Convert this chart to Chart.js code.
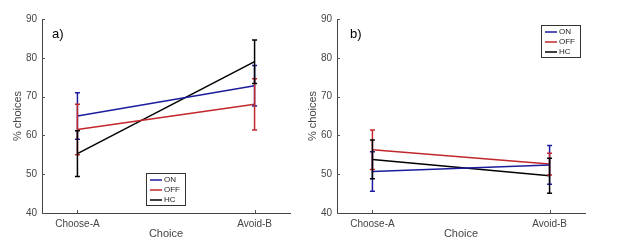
<!DOCTYPE html>
<html lang="en">
<head>
    <meta charset="UTF-8">
    <title>% choices</title>
    <script src="https://cdn.jsdelivr.net/npm/chart.js"></script>
    <style>
        body { margin: 0; background: #fff; }
        #wrap { position: relative; width: 617px; height: 241px; }
        .panel { position: absolute; top: 0; width: 308px; height: 241px; }
    </style>
</head>
<body>
    <div id="wrap">
        <div class="panel" style="left:0"><canvas id="chartA"></canvas></div>
        <div class="panel" style="left:295px"><canvas id="chartB"></canvas></div>
    </div>

    <script>
        const categories = ['Choose-A', 'Avoid-B'];
        const seriesNames = ['ON', 'OFF', 'HC'];
        const seriesColors = ['#1c1c9c', '#c0282c', '#000000'];
        const yTicks = [40, 50, 60, 70, 80, 90];

        // panel a)
        const onA = [65.0, 72.8];
        const offA = [61.5, 68.0];
        const hcA = [55.3, 79.0];
        const onErrA = [6.0, 5.2];
        const offErrA = [6.5, 6.6];
        const hcErrA = [5.9, 5.6];

        // panel b)
        const onB = [50.7, 52.4];
        const offB = [56.3, 52.6];
        const hcB = [53.8, 49.6];
        const onErrB = [5.1, 5.0];
        const offErrB = [5.1, 2.8];
        const hcErrB = [5.0, 4.5];

        const textColor = '#454545';
        const fontFamily = '"Liberation Sans", Arial, sans-serif';

        const errorBars = {
            id: 'errorBars',
            afterDatasetsDraw(chart) {
                const ctx = chart.ctx;
                const xs = chart.scales.x, ys = chart.scales.y;
                chart.data.datasets.forEach(ds => {
                    ds.data.forEach((p, i) => {
                        const x = xs.getPixelForValue(p.x);
                        const yt = ys.getPixelForValue(p.y + ds.err[i]);
                        const yb = ys.getPixelForValue(p.y - ds.err[i]);
                        ctx.save();
                        ctx.strokeStyle = ds.borderColor;
                        ctx.lineWidth = 1.5;
                        ctx.beginPath();
                        ctx.moveTo(x, yt); ctx.lineTo(x, yb);
                        ctx.moveTo(x - 2.5, yt); ctx.lineTo(x + 2.5, yt);
                        ctx.moveTo(x - 2.5, yb); ctx.lineTo(x + 2.5, yb);
                        ctx.stroke();
                        ctx.restore();
                    });
                });
            }
        };

        const decorations = {
            id: 'decorations',
            afterDraw(chart, args, opts) {
                const ctx = chart.ctx;
                const area = chart.chartArea;
                const xs = chart.scales.x, ys = chart.scales.y;
                ctx.save();
                // inward ticks
                ctx.strokeStyle = '#555';
                ctx.lineWidth = 1;
                ctx.beginPath();
                yTicks.forEach(v => {
                    const y = Math.round(ys.getPixelForValue(v)) + 0.5;
                    ctx.moveTo(area.left, y); ctx.lineTo(area.left + 3, y);
                });
                categories.forEach((c, i) => {
                    const x = Math.round(xs.getPixelForValue(i + 1)) + 0.5;
                    ctx.moveTo(x, area.bottom); ctx.lineTo(x, area.bottom - 3);
                });
                ctx.stroke();

                // panel label
                ctx.fillStyle = '#000';
                ctx.font = '13px ' + fontFamily;
                ctx.textBaseline = 'middle';
                ctx.fillText(opts.label, opts.labelX, 34);

                // legend box
                const lx = opts.legendX, ly = opts.legendY, lw = 39, lh = 32;
                ctx.fillStyle = '#fff';
                ctx.fillRect(lx, ly, lw, lh);
                ctx.strokeStyle = '#333';
                ctx.strokeRect(lx + 0.5, ly + 0.5, lw, lh);
                ctx.font = '8px ' + fontFamily;
                seriesNames.forEach((name, i) => {
                    const y = ly + 7 + i * 10;
                    ctx.strokeStyle = seriesColors[i];
                    ctx.lineWidth = 1.5;
                    ctx.beginPath();
                    ctx.moveTo(lx + 4, y); ctx.lineTo(lx + 16, y);
                    ctx.stroke();
                    ctx.fillStyle = '#222';
                    ctx.fillText(name, lx + 18, y);
                });
                ctx.restore();
            }
        };

        function makeChart(id, means, errs, opts) {
            const datasets = seriesNames.map((name, s) => ({
                label: name,
                data: means[s].map((v, i) => ({ x: i + 1, y: v })),
                err: errs[s],
                borderColor: seriesColors[s],
                backgroundColor: seriesColors[s],
                borderWidth: 1.5,
                pointRadius: 0,
                fill: false
            }));

            return new Chart(document.getElementById(id), {
                type: 'line',
                data: { datasets: datasets },
                plugins: [errorBars, decorations],
                options: {
                    responsive: true,
                    maintainAspectRatio: false,
                    animation: false,
                    layout: { padding: { top: 19, right: 18, left: 0, bottom: 0 } },
                    plugins: {
                        legend: { display: false },
                        tooltip: { enabled: false },
                        decorations: opts
                    },
                    scales: {
                        x: {
                            type: 'linear',
                            min: 0.8,
                            max: 2.2,
                            afterBuildTicks: s => { s.ticks = [{ value: 1 }, { value: 2 }]; },
                            afterFit: s => { s.height = 28; },
                            grid: { display: false, drawTicks: false },
                            border: { color: '#444', width: 1 },
                            ticks: {
                                padding: 5,
                                maxRotation: 0,
                                color: textColor,
                                font: { size: 10, family: fontFamily },
                                callback: v => categories[v - 1]
                            },
                            title: {
                                display: true,
                                text: 'Choice',
                                color: textColor,
                                padding: { top: 0, bottom: 0 },
                                font: { size: 11, family: fontFamily }
                            }
                        },
                        y: {
                            min: 40,
                            max: 90,
                            afterBuildTicks: s => { s.ticks = yTicks.map(v => ({ value: v })); },
                            afterFit: s => { s.width = 42; },
                            grid: { display: false, drawTicks: false },
                            border: { color: '#444', width: 1 },
                            ticks: {
                                padding: 5,
                                color: textColor,
                                font: { size: 10, family: fontFamily }
                            },
                            title: {
                                display: true,
                                text: '% choices',
                                color: textColor,
                                padding: { top: 11, bottom: 0 },
                                font: { size: 11, family: fontFamily }
                            }
                        }
                    }
                }
            });
        }

        makeChart('chartA', [onA, offA, hcA], [onErrA, offErrA, hcErrA],
            { label: 'a)', labelX: 52, legendX: 146, legendY: 173 });
        makeChart('chartB', [onB, offB, hcB], [onErrB, offErrB, hcErrB],
            { label: 'b)', labelX: 55, legendX: 246, legendY: 25 });
    </script>
</body>
</html>
